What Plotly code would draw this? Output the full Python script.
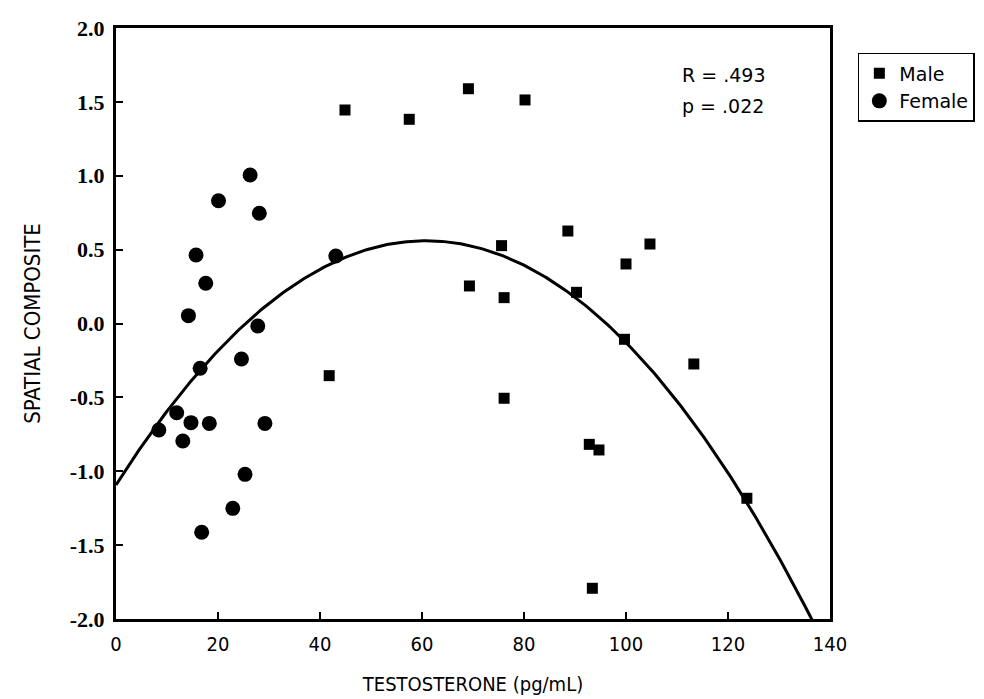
import numpy as np
import plotly.graph_objects as go

# ---- data ----
male_x = [44.9, 57.5, 69.1, 80.2, 88.6, 75.6, 104.7, 100.0, 69.3, 76.1, 90.3, 99.7, 113.3, 76.1, 92.8, 94.7, 123.7, 93.4, 41.8]
male_y = [1.445, 1.382, 1.589, 1.513, 0.626, 0.527, 0.538, 0.403, 0.254, 0.175, 0.211, -0.107, -0.274, -0.506, -0.818, -0.856, -1.183, -1.792, -0.353]

female_x = [26.3, 20.1, 28.1, 15.7, 43.1, 17.6, 14.2, 27.8, 24.6, 16.5, 11.9, 8.4, 14.7, 18.3, 29.2, 13.1, 25.3, 22.9, 16.8]
female_y = [1.005, 0.831, 0.746, 0.464, 0.457, 0.272, 0.053, -0.017, -0.240, -0.303, -0.604, -0.721, -0.671, -0.676, -0.676, -0.795, -1.021, -1.251, -1.413]

# quadratic fit line coefficients (a*x^2 + b*x + c)
fit_coeffs = [-4.476e-4, 0.0544, -1.093]
fit_x_range = [0, 136.5]

x_ticks = [0, 20, 40, 60, 80, 100, 120, 140]
y_ticks = [2.0, 1.5, 1.0, 0.5, 0.0, -0.5, -1.0, -1.5, -2.0]
y_tick_labels = ["2.0", "1.5", "1.0", "0.5", "0.0", "-0.5", "-1.0", "-1.5", "-2.0"]

stats_text = ["R = .493", "p = .022"]

fx = np.linspace(fit_x_range[0], fit_x_range[1], 300)
fy = np.polyval(fit_coeffs, fx)

fig = go.Figure()
fig.add_trace(go.Scatter(x=male_x, y=male_y, mode="markers", name="Male",
                         marker=dict(symbol="square", size=11, color="black")))
fig.add_trace(go.Scatter(x=female_x, y=female_y, mode="markers", name="Female",
                         marker=dict(symbol="circle", size=15, color="black")))
fig.add_trace(go.Scatter(x=fx, y=fy, mode="lines", showlegend=False,
                         line=dict(color="black", width=3)))

sans = "DejaVu Sans Condensed, DejaVu Sans, sans-serif"
fig.update_layout(
    width=984, height=699,
    margin=dict(l=116, r=154, t=28, b=80, autoexpand=False),
    paper_bgcolor="white", plot_bgcolor="white",
    showlegend=True,
    legend=dict(x=1.039, y=0.958, xanchor="left", yanchor="top",
                bordercolor="black", borderwidth=1.5,
                font=dict(family="DejaVu Sans, sans-serif", size=19, color="black"),
                bgcolor="white"),
)
fig.update_xaxes(range=[0, 140], tickvals=x_ticks, ticks="inside", ticklen=7,
                 tickwidth=2, tickcolor="black", showline=True, linecolor="black",
                 linewidth=3, mirror=True, showgrid=False, zeroline=False,
                 ticklabelstandoff=5, automargin=False,
                 tickfont=dict(family=sans, size=20, color="black"),
                 title=dict(text="TESTOSTERONE (pg/mL)", standoff=22,
                            font=dict(family=sans, size=20, color="black")))
fig.update_yaxes(range=[-2.0, 2.0], tickvals=y_ticks, ticktext=y_tick_labels,
                 ticks="inside", ticklen=7, tickwidth=2, tickcolor="black",
                 showline=True, linecolor="black", linewidth=3, mirror=True,
                 showgrid=False, zeroline=False, ticklabelstandoff=4, automargin=False,
                 tickfont=dict(family="Liberation Serif, serif", size=22, color="black",
                               weight="bold"),
                 title=dict(text="SPATIAL COMPOSITE", standoff=24,
                            font=dict(family=sans, size=22, color="black")))

for i, t in enumerate(stats_text):
    fig.add_annotation(xref="paper", yref="paper", x=0.79, y=0.92 - i * 0.052,
                       text=t, showarrow=False, xanchor="left", yanchor="middle",
                       font=dict(family="DejaVu Sans, sans-serif", size=19, color="black"))

fig.write_html("out.html", config={"displayModeBar": False},
               post_script="document.body.style.margin='0';")
